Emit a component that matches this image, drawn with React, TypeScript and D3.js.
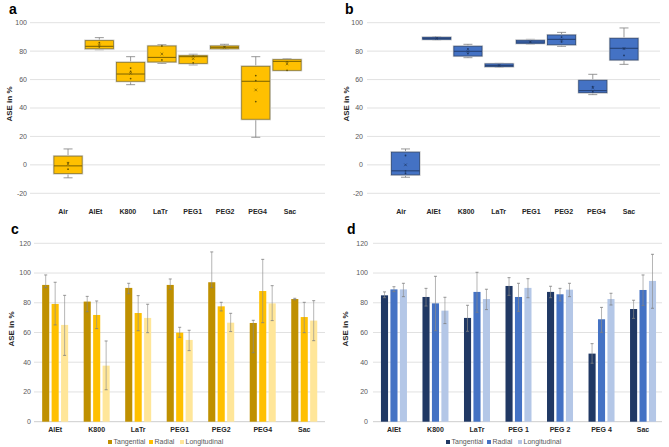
import React from 'react';
import * as d3 from 'd3';

// box plot panels (a, b)
const boxCats = ['Air', 'AlEt', 'K800', 'LaTr', 'PEG1', 'PEG2', 'PEG4', 'Sac'];

const aLow = [-9.1, 81.0, 56.4, 71.4, 70.3, 81.3, 19.4, 66.5];
const aQ1 = [-6.1, 81.7, 58.8, 72.4, 71.4, 81.7, 32.1, 66.5];
const aMed = [-0.7, 83.4, 63.9, 75.6, 76.1, 82.7, 58.8, 72.8];
const aQ3 = [6.1, 87.4, 72.1, 83.6, 76.8, 83.6, 69.3, 74.0];
const aHigh = [11.2, 89.5, 76.1, 84.5, 77.8, 84.8, 76.1, 74.7];
const aMean = [0.7, 84.3, 64.4, 78.0, 74.7, 82.7, 52.7, 71.0];
const aPts = [[1.6, -3], [85.9, 83], [68.1, 65.8, 60.7], [83.6, 73.8], [76.5, 71.8], [83], [62.8, 59.3, 44.5], [72.5, 66.5]];

const bLow = [-8.7, 88.0, 75.4, 68.6, 85.0, 83.4, 49.4, 70.7];
const bQ1 = [-7.0, 88.3, 76.6, 69.1, 85.5, 84.5, 50.8, 73.8];
const bMed = [-4.2, 89.0, 79.9, 69.8, 86.4, 88.3, 52.2, 82.0];
const bQ3 = [8.9, 89.7, 83.4, 71.0, 87.6, 91.3, 59.5, 89.0];
const bHigh = [11.2, 90.2, 84.8, 71.4, 88.3, 93.2, 63.7, 96.3];
const bMean = [0, 89.0, 79.7, 69.9, 86.5, 87.8, 54.1, 81.7];
const bPts = [[6.6, -4.2, -5.9], [89], [81.5, 78.3], [70], [86.5], [89.9, 86.5], [55, 51.5], [82, 77]];

const boxTicks = [-20, 0, 20, 40, 60, 80, 100];

// bar panels (c, d)
const series = ['Tangential', 'Radial', 'Longitudinal'];
const cCats = ['AlEt', 'K800', 'LaTr', 'PEG1', 'PEG2', 'PEG4', 'Sac'];
const dCats = ['AlEt', 'K800', 'LaTr', 'PEG 1', 'PEG 2', 'PEG 4', 'Sac'];

const cTan = [92.0, 80.8, 90.0, 92.0, 93.8, 66.4, 82.5];
const cTanHi = [98.7, 84.3, 93.1, 96.0, 114.2, 68.2, 83.0];
const cTanLo = [90.2, 74.0, 86.1, 89.0, 90.2, 46.4, 82.0];
const cRad = [79.2, 71.8, 73.1, 59.9, 77.6, 87.9, 70.4];
const cRadHi = [93.8, 81.2, 84.8, 63.5, 80.3, 109.2, 80.3];
const cRadLo = [65.1, 62.6, 61.2, 56.8, 74.5, 66.6, 59.9];
const cLon = [65.1, 37.7, 69.8, 55.0, 66.6, 79.6, 68.0];
const cLonHi = [85.0, 54.3, 79.0, 61.5, 72.9, 91.5, 81.4];
const cLonLo = [44.6, 21.5, 59.9, 47.8, 60.6, 68.0, 54.5];

const dTan = [85.0, 83.9, 69.8, 91.3, 87.3, 45.8, 75.8];
const dTanHi = [87.3, 89.7, 78.3, 96.9, 91.1, 52.5, 81.7];
const dTanLo = [83.4, 77.8, 60.8, 85.0, 83.4, 39.3, 69.5];
const dRad = [89.0, 79.6, 87.3, 83.9, 85.7, 68.9, 88.6];
const dRadHi = [90.8, 97.8, 100.5, 93.1, 89.7, 76.9, 98.7];
const dRadLo = [87.5, 61.2, 73.6, 74.2, 81.2, 60.1, 78.1];
const dLon = [89.0, 74.7, 82.5, 90.0, 88.8, 82.5, 94.7];
const dLonHi = [93.1, 83.7, 89.1, 96.2, 93.1, 86.4, 112.6];
const dLonLo = [84.1, 66.0, 75.4, 83.4, 84.1, 78.5, 76.3];

const barTicks = [0, 20, 40, 60, 80, 100, 120];

const FONT = "Arial, 'Liberation Sans', sans-serif";
const GRID = '#d9d9d9';
const TICK = '#595959';

function BoxPanel(p: any) {
  const y = d3.scaleLinear().domain([-20, 100]).range([193.3, 22.7]);
  const x = d3.scaleBand().domain(boxCats).range(p.boxRange).paddingInner(0.1).paddingOuter(0.05);
  const xl = d3.scalePoint().domain(boxCats).range(p.labelRange);
  const bw = x.bandwidth();
  return (
    <g>
      <text x={p.letterX} y={13.5} fontSize={14} fontWeight="bold" fill="#000">{p.letter}</text>
      <text transform={`translate(${p.titleX},104) rotate(-90)`} textAnchor="middle" fontSize={8} fontWeight="bold" fill="#262626">ASE in %</text>
      {boxTicks.map(t => (
        <g key={t}>
          <line x1={p.grid[0]} x2={p.grid[1]} y1={y(t)} y2={y(t)} stroke={GRID} strokeWidth={0.8} />
          <text x={p.tickX} y={y(t)} dy="0.35em" textAnchor="end" fontSize={7} fill={TICK}>{t}</text>
        </g>
      ))}
      {boxCats.map((c, i) => {
        const cx = x(c)! + bw / 2;
        return (
          <g key={c}>
            <line x1={cx} x2={cx} y1={y(p.high[i])} y2={y(p.q3[i])} stroke="#7f7f7f" strokeWidth={0.8} />
            <line x1={cx} x2={cx} y1={y(p.q1[i])} y2={y(p.low[i])} stroke="#7f7f7f" strokeWidth={0.8} />
            <line x1={cx - 4.5} x2={cx + 4.5} y1={y(p.high[i])} y2={y(p.high[i])} stroke="#7f7f7f" strokeWidth={0.8} />
            <line x1={cx - 4.5} x2={cx + 4.5} y1={y(p.low[i])} y2={y(p.low[i])} stroke="#7f7f7f" strokeWidth={0.8} />
            <rect x={x(c)!} y={y(p.q3[i])} width={bw} height={Math.max(1, y(p.q1[i]) - y(p.q3[i]))}
              fill={p.fill} stroke="#cfcfcf" strokeWidth={2.2} />
            <rect x={x(c)!} y={y(p.q3[i])} width={bw} height={Math.max(1, y(p.q1[i]) - y(p.q3[i]))}
              fill={p.fill} stroke={p.stroke} strokeWidth={0.8} />
            <line x1={x(c)!} x2={x(c)! + bw} y1={y(p.med[i])} y2={y(p.med[i])} stroke={p.medColor} strokeWidth={0.9} />
            {p.pts[i].map((v: number, j: number) => (
              <circle key={j} cx={cx} cy={y(v)} r={0.9} fill={p.medColor} />
            ))}
            <path d={`M${cx - 1.3},${y(p.mean[i]) - 1.3}L${cx + 1.3},${y(p.mean[i]) + 1.3}M${cx - 1.3},${y(p.mean[i]) + 1.3}L${cx + 1.3},${y(p.mean[i]) - 1.3}`}
              stroke={p.medColor} strokeWidth={0.7} />
          </g>
        );
      })}
      {boxCats.map(c => (
        <text key={c} x={xl(c)} y={214} textAnchor="middle" fontSize={7} fontWeight="bold" fill="#262626">{c}</text>
      ))}
    </g>
  );
}

function BarPanel(p: any) {
  const y = d3.scaleLinear().domain([0, 120]).range([421.7, 243.3]);
  const x0 = d3.scaleBand().domain(p.cats).range(p.range);
  const x1 = d3.scaleBand().domain(series).range([-13, 13]).paddingInner(0.25);
  const bw = x1.bandwidth();
  const legendOff = [0, 41, 72];
  return (
    <g>
      <text x={p.letterX} y={234} fontSize={14} fontWeight="bold" fill="#000">{p.letter}</text>
      <text transform={`translate(${p.titleX},329) rotate(-90)`} textAnchor="middle" fontSize={8} fontWeight="bold" fill="#262626">ASE in %</text>
      {barTicks.map(t => (
        <g key={t}>
          <line x1={p.grid[0]} x2={p.grid[1]} y1={y(t)} y2={y(t)} stroke={t === 0 ? '#bfbfbf' : GRID} strokeWidth={0.8} />
          <text x={p.tickX} y={y(t)} dy="0.35em" textAnchor="end" fontSize={7} fill={TICK}>{t}</text>
        </g>
      ))}
      {p.cats.map((c: string, i: number) => {
        const cx = x0(c)! + x0.bandwidth() / 2;
        return (
          <g key={c}>
            {series.map((s, k) => {
              const bx = cx + x1(s)!;
              const v = p.vals[k][i];
              const ex = bx + bw / 2;
              return (
                <g key={s}>
                  <rect x={bx} y={y(v)} width={bw} height={y(0) - y(v)} fill={p.colors[k]} />
                  <line x1={ex} x2={ex} y1={y(p.hi[k][i])} y2={y(p.lo[k][i])} stroke="#8c8c8c" strokeOpacity={0.8} strokeWidth={0.8} />
                  <line x1={ex - 1.5} x2={ex + 1.5} y1={y(p.hi[k][i])} y2={y(p.hi[k][i])} stroke="#7f7f7f" strokeWidth={0.8} />
                  <line x1={ex - 1.5} x2={ex + 1.5} y1={y(p.lo[k][i])} y2={y(p.lo[k][i])} stroke="#7f7f7f" strokeWidth={0.8} />
                </g>
              );
            })}
            <text x={cx} y={432} textAnchor="middle" fontSize={7} fontWeight="bold" fill="#262626">{c}</text>
          </g>
        );
      })}
      {series.map((s, k) => (
        <g key={s} transform={`translate(${p.legendX + legendOff[k]},442)`}>
          <rect x={-2} y={-2} width={4} height={4} fill={p.colors[k]} />
          <text x={3.5} y={0} dy="0.35em" fontSize={7} fill={TICK}>{s}</text>
        </g>
      ))}
    </g>
  );
}

export default function App() {
  return (
    <svg width={669} height={447} style={{ position: 'absolute', left: 0, top: 0, background: '#fff' }} fontFamily={FONT}>
      <BoxPanel letter="a" letterX={9} titleX={12} tickX={27} grid={[30, 325]}
        boxRange={[52.4, 302.7]} labelRange={[63, 290]}
        low={aLow} q1={aQ1} med={aMed} q3={aQ3} high={aHigh} mean={aMean} pts={aPts}
        fill="#ffc000" stroke="#8f7a2c" medColor="#6b5600" />
      <BoxPanel letter="b" letterX={345} titleX={349} tickX={363} grid={[367, 660]}
        boxRange={[389.9, 639.6]} labelRange={[401, 629]}
        low={bLow} q1={bQ1} med={bMed} q3={bQ3} high={bHigh} mean={bMean} pts={bPts}
        fill="#4472c4" stroke="#2f4b7c" medColor="#1f3864" />
      <BarPanel letter="c" letterX={11} titleX={14} tickX={31} grid={[34, 325]} range={[34.4, 325]}
        cats={cCats} legendX={110}
        vals={[cTan, cRad, cLon]} hi={[cTanHi, cRadHi, cLonHi]} lo={[cTanLo, cRadLo, cLonLo]}
        colors={['#bf9000', '#ffc000', '#ffe699']} />
      <BarPanel letter="d" letterX={347} titleX={348} tickX={368} grid={[373, 662]} range={[373.2, 663.8]}
        cats={dCats} legendX={448}
        vals={[dTan, dRad, dLon]} hi={[dTanHi, dRadHi, dLonHi]} lo={[dTanLo, dRadLo, dLonLo]}
        colors={['#203864', '#4472c4', '#b4c7e7']} />
    </svg>
  );
}
